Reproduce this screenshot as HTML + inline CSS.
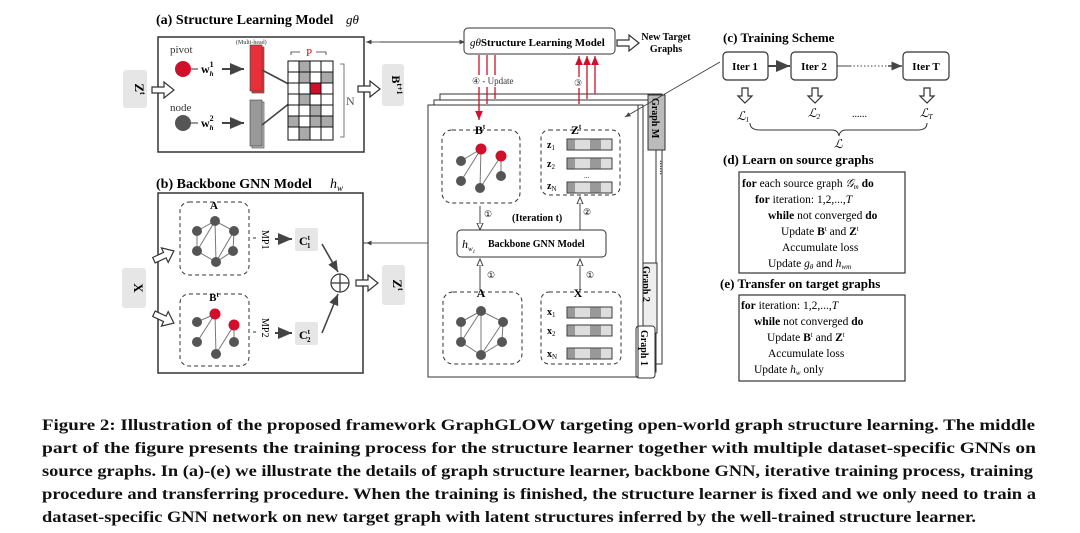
<!DOCTYPE html>
<html><head><meta charset="utf-8"><style>
html,body{margin:0;padding:0;background:#fff;}
svg{display:block;font-family:"Liberation Serif",serif;}
.b{font-weight:bold;}
</style></head><body>
<svg width="1080" height="533" viewBox="0 0 1080 533" xmlns="http://www.w3.org/2000/svg">
<defs>
<marker id="ah" markerWidth="8" markerHeight="8" refX="7" refY="4" orient="auto"><path d="M0,1 L7,4 L0,7 z" fill="#444"/></marker>
<marker id="ahr" markerWidth="8" markerHeight="8" refX="7" refY="4" orient="auto"><path d="M0,1 L7,4 L0,7 z" fill="#d0102a"/></marker>
<marker id="aho" markerWidth="8" markerHeight="8" refX="7" refY="4" orient="auto"><path d="M0,1 L7,4 L0,7 z" fill="#fff" stroke="#444"/></marker>
<g id="hol"><path d="M0,-3 L12,-3 L12,-8 L22,0 L12,8 L12,3 L0,3 z" fill="#fff" stroke="#333" stroke-width="1.2"/></g>
<g id="hold"><path d="M-3,0 L-3,8 L-7,8 L0,15 L7,8 L3,8 L3,0 z" fill="#fff" stroke="#333" stroke-width="1.2"/></g>
</defs>

<!-- (a) -->
<text x="156" y="24" class="b" font-size="14">(a) Structure Learning Model</text>
<text x="346" y="24" font-size="13" font-style="italic">gθ</text>
<rect x="158" y="37" width="206" height="115" fill="#fff" stroke="#333" stroke-width="1.5"/>
<rect x="123" y="70" width="24" height="38" rx="3" fill="#e6e6e6"/>
<text x="135" y="89" class="b" font-size="13" transform="rotate(90 135 89)" text-anchor="middle">Z<tspan font-size="8" dy="-5">t</tspan></text>
<use href="#hol" x="152" y="90"/>
<text x="170" y="53" font-size="11" fill="#333">pivot</text>
<circle cx="183" cy="69" r="8" fill="#d0102a"/>
<line x1="191" y1="69" x2="198" y2="69" stroke="#333"/>
<text x="201" y="73" class="b" font-size="12">w<tspan font-size="8" dy="-6">1</tspan><tspan font-size="7" dy="9" dx="-4" font-style="italic">h</tspan></text>
<line x1="222" y1="69" x2="244" y2="69" stroke="#444" stroke-width="2" marker-end="url(#ah)"/>
<text x="170" y="111" font-size="11" fill="#333">node</text>
<circle cx="183" cy="123" r="8" fill="#555"/>
<line x1="191" y1="123" x2="198" y2="123" stroke="#333"/>
<text x="201" y="127" class="b" font-size="12">w<tspan font-size="8" dy="-6">2</tspan><tspan font-size="7" dy="9" dx="-4" font-style="italic">h</tspan></text>
<line x1="222" y1="123" x2="244" y2="123" stroke="#444" stroke-width="2" marker-end="url(#ah)"/>
<text x="236" y="44" font-size="6" fill="#333">(Multi-head)</text>
<rect x="252" y="47" width="12" height="46" fill="#e53a3a" stroke="#444" stroke-width="0.6"/>
<rect x="250" y="45" width="12" height="46" fill="#e8303a" stroke="#444" stroke-width="0.6"/>
<rect x="252" y="102" width="12" height="46" fill="#bbb" stroke="#444" stroke-width="0.6"/>
<rect x="250" y="100" width="12" height="46" fill="#999" stroke="#444" stroke-width="0.6"/>
<line x1="262" y1="70" x2="300" y2="90" stroke="#444" stroke-width="1.6" marker-end="url(#ah)"/>
<line x1="262" y1="125" x2="300" y2="95" stroke="#444" stroke-width="1.6" marker-end="url(#ah)"/>
<g stroke="#111" stroke-width="1">
<rect x="288" y="61" width="45" height="79" fill="#fff"/>
<rect x="299" y="61" width="11" height="22" fill="#aaa"/>
<rect x="321" y="72" width="12" height="11" fill="#aaa"/>
<rect x="299" y="94" width="11" height="11" fill="#aaa"/>
<rect x="310" y="83" width="11" height="11" fill="#d0102a"/>
<rect x="310" y="105" width="11" height="11" fill="#aaa"/>
<rect x="288" y="116" width="11" height="11" fill="#aaa"/>
<rect x="310" y="116" width="11" height="11" fill="#aaa"/>
<rect x="321" y="116" width="12" height="11" fill="#aaa"/>
<rect x="299" y="127" width="11" height="13" fill="#aaa"/>
<path d="M299,61V140M310,61V140M321,61V140M288,72H333M288,83H333M288,94H333M288,105H333M288,116H333M288,127H333" fill="none"/>
</g>
<text x="306" y="56" font-size="11" fill="#c01020">P</text>
<path d="M291,55 L291,52 L300,52 M316,52 L326,52 L326,55" fill="none" stroke="#333" stroke-width="0.8"/>
<path d="M340,64 L344,64 L344,137 L340,137" fill="none" stroke="#555" stroke-width="0.8"/>
<text x="346" y="105" font-size="12" fill="#555">N</text>
<use href="#hol" x="358" y="89"/>
<rect x="382" y="64" width="22" height="42" rx="3" fill="#e6e6e6"/>
<text x="392" y="85" class="b" font-size="12" transform="rotate(90 392 85)" text-anchor="middle">B<tspan font-size="8" dy="-5">t+1</tspan></text>
<line x1="464" y1="42" x2="366" y2="42" stroke="#333" stroke-width="0.8" marker-end="url(#ah)"/>
<line x1="380" y1="42" x2="465" y2="42" stroke="#333" stroke-width="0.8" marker-end="url(#ah)"/>

<!-- (b) -->
<text x="156" y="188" class="b" font-size="14">(b) Backbone GNN Model</text>
<text x="330" y="188" font-size="14" font-style="italic">h<tspan font-size="9" dy="3">w</tspan></text>
<rect x="158" y="193" width="205" height="180" fill="#fff" stroke="#333" stroke-width="1.5"/>
<rect x="122" y="268" width="24" height="40" rx="3" fill="#e6e6e6"/>
<text x="134" y="288" class="b" font-size="13" transform="rotate(90 134 288)" text-anchor="middle">X</text>
<g transform="rotate(-25 163 256)"><use href="#hol" x="153" y="256"/></g>
<g transform="rotate(25 163 318)"><use href="#hol" x="153" y="318"/></g>
<rect x="180" y="202" width="69" height="73" rx="9" fill="none" stroke="#333" stroke-dasharray="4,3"/>
<text x="214" y="209" class="b" font-size="11" text-anchor="middle">A</text>
<g stroke="#777" stroke-width="1">
<path d="M197,231 L215,221 L234,231 L233,251 L216,262 L197,251 Z M215,221 L216,262 M197,251 L215,221 M216,262 L234,231" fill="none"/>
</g>
<g fill="#555"><circle cx="197" cy="231" r="5"/><circle cx="215" cy="221" r="5"/><circle cx="234" cy="231" r="5"/><circle cx="197" cy="251" r="5"/><circle cx="216" cy="262" r="5"/><circle cx="233" cy="251" r="5"/></g>
<rect x="180" y="294" width="69" height="72" rx="9" fill="none" stroke="#333" stroke-dasharray="4,3"/>
<text x="214" y="301" class="b" font-size="11" text-anchor="middle">B<tspan font-size="7" dy="-4">t</tspan></text>
<g stroke="#777"><path d="M197,322 L215,314 L216,354 M197,342 L215,314 M216,354 L234,325 L234,342" fill="none"/></g>
<g fill="#555"><circle cx="197" cy="322" r="5"/><circle cx="197" cy="342" r="5"/><circle cx="216" cy="354" r="5"/><circle cx="234" cy="342" r="5"/></g>
<g fill="#d0102a"><circle cx="215" cy="314" r="5.5"/><circle cx="234" cy="325" r="5.5"/></g>
<text x="262" y="230" font-size="10" transform="rotate(90 262 230)">MP1</text>
<text x="262" y="318" font-size="10" transform="rotate(90 262 318)">MP2</text>
<line x1="253" y1="238" x2="256" y2="238" stroke="#333"/>
<line x1="253" y1="332" x2="256" y2="332" stroke="#333"/>
<line x1="275" y1="239" x2="292" y2="239" stroke="#444" stroke-width="2" marker-end="url(#ah)"/>
<line x1="275" y1="333" x2="292" y2="333" stroke="#444" stroke-width="2" marker-end="url(#ah)"/>
<rect x="295" y="228" width="23" height="23" rx="2" fill="#e6e6e6"/>
<text x="299" y="245" class="b" font-size="12">C<tspan font-size="7" dy="-5">t</tspan><tspan font-size="7" dy="8" dx="-3">1</tspan></text>
<rect x="295" y="322" width="23" height="23" rx="2" fill="#e6e6e6"/>
<text x="299" y="339" class="b" font-size="12">C<tspan font-size="7" dy="-5">t</tspan><tspan font-size="7" dy="8" dx="-3">2</tspan></text>
<line x1="322" y1="244" x2="338" y2="272" stroke="#444" stroke-width="1.6" marker-end="url(#ah)"/>
<line x1="322" y1="333" x2="338" y2="294" stroke="#444" stroke-width="1.6" marker-end="url(#ah)"/>
<circle cx="340" cy="283" r="9" fill="#fff" stroke="#333" stroke-width="1.2"/>
<path d="M331,283H349M340,274V292" stroke="#333" stroke-width="1.2"/>
<use href="#hol" x="356" y="283"/>
<rect x="382" y="265" width="23" height="40" rx="3" fill="#e6e6e6"/>
<text x="393" y="285" class="b" font-size="13" transform="rotate(90 393 285)" text-anchor="middle">Z<tspan font-size="8" dy="-5">t</tspan></text>
<line x1="455" y1="243" x2="366" y2="243" stroke="#333" stroke-width="0.8" marker-end="url(#ah)"/>
<line x1="363" y1="243" x2="366" y2="243" stroke="#333"/>

<!-- middle -->
<rect x="464" y="28" width="151" height="26" rx="4" fill="#fff" stroke="#333"/>
<text x="470" y="46" font-size="11"><tspan font-style="italic">gθ</tspan><tspan class="b">Structure Learning Model</tspan></text>
<use href="#hol" x="617" y="43"/>
<text x="666" y="40" class="b" font-size="10" text-anchor="middle">New Target</text>
<text x="666" y="52" class="b" font-size="10" text-anchor="middle">Graphs</text>
<!-- stacked sheets -->
<rect x="440" y="94" width="222" height="270" fill="#fff" stroke="#333"/>
<rect x="434" y="100" width="222" height="272" fill="#fff" stroke="#333"/>
<rect x="648" y="95" width="17" height="55" fill="#bbb" stroke="#333"/>
<text x="652" y="98" class="b" font-size="10" transform="rotate(90 652 98)">Graph M</text>
<text x="660" y="160" font-size="10" transform="rotate(90 660 160)">......</text>
<rect x="640" y="263" width="17" height="70" fill="#eee" stroke="#333"/>
<text x="643" y="266" class="b" font-size="10" transform="rotate(90 643 266)">Graph 2</text>
<rect x="428" y="105" width="215" height="272" fill="#fff" stroke="#333"/>
<rect x="636" y="326" width="19" height="52" rx="3" fill="#fff" stroke="#333"/>
<text x="641" y="330" class="b" font-size="10" transform="rotate(90 641 330)">Graph 1</text>
<rect x="428" y="105" width="210" height="272" fill="none" stroke="#333"/>
<!-- red arrows -->
<line x1="479" y1="55" x2="479" y2="120" stroke="#d0102a" stroke-width="1.3" marker-end="url(#ahr)"/>
<line x1="487" y1="55" x2="487" y2="104" stroke="#d0102a" stroke-width="1.3"/>
<line x1="495" y1="55" x2="495" y2="99" stroke="#d0102a" stroke-width="1.3"/>
<rect x="470" y="75" width="48" height="12" fill="#fff"/>
<text x="472" y="84" font-size="9" fill="#333">④ - Update</text>
<line x1="579" y1="104" x2="579" y2="56" stroke="#d0102a" stroke-width="1.3" marker-end="url(#ahr)"/>
<line x1="587" y1="99" x2="587" y2="56" stroke="#d0102a" stroke-width="1.3" marker-end="url(#ahr)"/>
<line x1="595" y1="94" x2="595" y2="56" stroke="#d0102a" stroke-width="1.3" marker-end="url(#ahr)"/>
<rect x="573" y="77" width="12" height="11" fill="#fff"/>
<text x="574" y="86" font-size="9" fill="#333">③</text>
<line x1="720" y1="62" x2="625" y2="117" stroke="#333" stroke-width="0.8" marker-end="url(#ah)"/>
<!-- Bt -->
<rect x="442" y="130" width="78" height="73" rx="10" fill="none" stroke="#333" stroke-dasharray="4,3"/>
<text x="480" y="134" class="b" font-size="12" text-anchor="middle">B<tspan font-size="7" dy="-5">t</tspan></text>
<g stroke="#777"><path d="M461,161 L481,149 L480,188 M461,181 L481,149 M480,188 L501,156 L501,176" fill="none"/></g>
<g fill="#555"><circle cx="461" cy="161" r="5"/><circle cx="461" cy="181" r="5"/><circle cx="480" cy="188" r="5"/><circle cx="501" cy="176" r="5"/></g>
<g fill="#d0102a"><circle cx="481" cy="149" r="5.5"/><circle cx="501" cy="156" r="5.5"/></g>
<!-- Zt -->
<rect x="541" y="130" width="79" height="65" rx="8" fill="none" stroke="#333" stroke-dasharray="4,3"/>
<text x="576" y="134" class="b" font-size="12" text-anchor="middle">Z<tspan font-size="7" dy="-5">t</tspan></text>
<g font-size="10" class="b"><text x="547" y="148">z<tspan font-size="7" dy="2" font-weight="normal">1</tspan></text><text x="547" y="167">z<tspan font-size="7" dy="2" font-weight="normal">2</tspan></text><text x="547" y="189">z<tspan font-size="7" dy="2" font-weight="normal">N</tspan></text></g>
<g id="bar1"><rect x="567" y="139" width="45" height="11" fill="#ddd" stroke="#333" stroke-width="0.8"/><rect x="567" y="139" width="8" height="11" fill="#999"/><rect x="590" y="139" width="11" height="11" fill="#999"/><rect x="567" y="139" width="45" height="11" fill="none" stroke="#333" stroke-width="0.8"/></g>
<use href="#bar1" y="19"/><use href="#bar1" y="43"/>
<text x="584" y="178" font-size="7">...</text>
<!-- hw -->
<line x1="480" y1="206" x2="480" y2="230" stroke="#444" marker-end="url(#aho)"/>
<text x="484" y="217" font-size="9">①</text>
<text x="512" y="221" class="b" font-size="10">(Iteration t)</text>
<line x1="580" y1="231" x2="580" y2="197" stroke="#444" marker-end="url(#aho)"/>
<text x="583" y="215" font-size="9">②</text>
<rect x="457" y="230" width="149" height="27" rx="4" fill="#fff" stroke="#333"/>
<text x="462" y="248" font-size="12" font-style="italic">h<tspan font-size="7" dy="3">w</tspan><tspan font-size="5" dy="2">1</tspan></text>
<text x="488" y="247" class="b" font-size="10">Backbone GNN Model</text>
<line x1="480" y1="290" x2="480" y2="259" stroke="#444" marker-end="url(#aho)"/>
<text x="487" y="278" font-size="9">①</text>
<line x1="580" y1="290" x2="580" y2="259" stroke="#444" marker-end="url(#aho)"/>
<text x="586" y="278" font-size="9">①</text>
<!-- A -->
<rect x="443" y="292" width="79" height="72" rx="10" fill="none" stroke="#333" stroke-dasharray="4,3"/>
<text x="481" y="297" class="b" font-size="12" text-anchor="middle">A</text>
<g stroke="#777"><path d="M461,322 L481,311 L503,322 L502,342 L481,355 L461,342 Z M481,311 L481,355 M461,342 L481,311 M481,355 L503,322" fill="none"/></g>
<g fill="#555"><circle cx="461" cy="322" r="5"/><circle cx="481" cy="311" r="5"/><circle cx="503" cy="322" r="5"/><circle cx="461" cy="342" r="5"/><circle cx="481" cy="355" r="5"/><circle cx="502" cy="342" r="5"/></g>
<!-- X -->
<rect x="541" y="292" width="80" height="72" rx="8" fill="none" stroke="#333" stroke-dasharray="4,3"/>
<text x="578" y="297" class="b" font-size="12" text-anchor="middle">X</text>
<g font-size="10" class="b"><text x="547" y="315">x<tspan font-size="7" dy="2" font-weight="normal">1</tspan></text><text x="547" y="334">x<tspan font-size="7" dy="2" font-weight="normal">2</tspan></text><text x="547" y="357">x<tspan font-size="7" dy="2" font-weight="normal">N</tspan></text></g>
<use href="#bar1" y="168"/><use href="#bar1" y="186"/><use href="#bar1" y="209"/>

<!-- (c) -->
<text x="723" y="42" class="b" font-size="13">(c) Training Scheme</text>
<rect x="723" y="52" width="45" height="28" rx="4" fill="#fff" stroke="#333" stroke-width="1.2"/>
<text x="745" y="70" class="b" font-size="11" text-anchor="middle">Iter 1</text>
<rect x="791" y="52" width="46" height="28" rx="4" fill="#fff" stroke="#333" stroke-width="1.2"/>
<text x="814" y="70" class="b" font-size="11" text-anchor="middle">Iter 2</text>
<rect x="903" y="52" width="46" height="28" rx="4" fill="#fff" stroke="#333" stroke-width="1.2"/>
<text x="926" y="70" class="b" font-size="11" text-anchor="middle">Iter T</text>
<line x1="768" y1="66" x2="790" y2="66" stroke="#444" stroke-width="2" marker-end="url(#ah)"/>
<line x1="837" y1="66" x2="850" y2="66" stroke="#444"/>
<line x1="850" y1="66" x2="888" y2="66" stroke="#444" stroke-dasharray="1.5,2"/>
<line x1="888" y1="66" x2="902" y2="66" stroke="#444" stroke-width="1.5" marker-end="url(#ah)"/>
<use href="#hold" x="745" y="88"/><use href="#hold" x="815" y="88"/><use href="#hold" x="927" y="88"/>
<g font-size="12" font-style="italic" font-family="Liberation Serif"><text x="737" y="120">ℒ<tspan font-size="7" dy="2">1</tspan></text><text x="808" y="117">ℒ<tspan font-size="7" dy="2">2</tspan></text><text x="920" y="117">ℒ<tspan font-size="7" dy="2">T</tspan></text><text x="834" y="148">ℒ</text></g>
<text x="852" y="117" font-size="10">......</text>
<path d="M750,123 Q750,130 760,130 L832,130 Q838,130 839,136 Q840,130 846,130 L918,130 Q927,130 927,123" fill="none" stroke="#333"/>
<!-- (d) -->
<text x="723" y="164" class="b" font-size="13">(d) Learn on source graphs</text>
<rect x="739" y="172" width="166" height="101" fill="#fff" stroke="#333" stroke-width="1.2"/>
<g font-size="11.5">
<text x="742" y="187"><tspan class="b">for</tspan> each source graph <tspan font-style="italic">𝒢<tspan font-size="7" dy="2">m</tspan></tspan><tspan dy="-2" class="b"> do</tspan></text>
<text x="755" y="203"><tspan class="b">for</tspan> iteration: 1,2,...,<tspan font-style="italic">T</tspan></text>
<text x="768" y="219"><tspan class="b">while</tspan> not converged <tspan class="b">do</tspan></text>
<text x="781" y="235">Update <tspan class="b">B</tspan><tspan font-size="7" dy="-4">t</tspan><tspan dy="4"> and </tspan><tspan class="b">Z</tspan><tspan font-size="7" dy="-4">t</tspan></text>
<text x="782" y="251">Accumulate loss</text>
<text x="768" y="267">Update <tspan font-style="italic">g<tspan font-size="7" dy="2">θ</tspan></tspan><tspan dy="-2"> and </tspan><tspan font-style="italic">h<tspan font-size="7" dy="2">wm</tspan></tspan></text>
</g>
<!-- (e) -->
<text x="720" y="288" class="b" font-size="13">(e) Transfer on target graphs</text>
<rect x="739" y="295" width="166" height="86" fill="#fff" stroke="#333" stroke-width="1.2"/>
<g font-size="11.5">
<text x="741" y="309"><tspan class="b">for</tspan> iteration: 1,2,...,<tspan font-style="italic">T</tspan></text>
<text x="754" y="325"><tspan class="b">while</tspan> not converged <tspan class="b">do</tspan></text>
<text x="767" y="341">Update <tspan class="b">B</tspan><tspan font-size="7" dy="-4">t</tspan><tspan dy="4"> and </tspan><tspan class="b">Z</tspan><tspan font-size="7" dy="-4">t</tspan></text>
<text x="768" y="357">Accumulate loss</text>
<text x="754" y="373">Update  <tspan font-style="italic">h<tspan font-size="7" dy="2">w</tspan></tspan><tspan dy="-2"> only</tspan></text>
</g>

<!-- caption -->
<g class="b" font-size="15.5" fill="#111">
<text x="42" y="430" textLength="993" lengthAdjust="spacingAndGlyphs">Figure 2: Illustration of the proposed framework GraphGLOW targeting open-world graph structure learning. The middle</text>
<text x="42" y="453" textLength="994" lengthAdjust="spacingAndGlyphs">part of the figure presents the training process for the structure learner together with multiple dataset-specific GNNs on</text>
<text x="42" y="476" textLength="991" lengthAdjust="spacingAndGlyphs">source graphs. In (a)-(e) we illustrate the details of graph structure learner, backbone GNN, iterative training process, training</text>
<text x="42" y="499" textLength="994" lengthAdjust="spacingAndGlyphs">procedure and transferring procedure. When the training is finished, the structure learner is fixed and we only need to train a</text>
<text x="42" y="522" textLength="934" lengthAdjust="spacingAndGlyphs">dataset-specific GNN network on new target graph with latent structures inferred by the well-trained structure learner.</text>
</g>
</svg>
</body></html>
